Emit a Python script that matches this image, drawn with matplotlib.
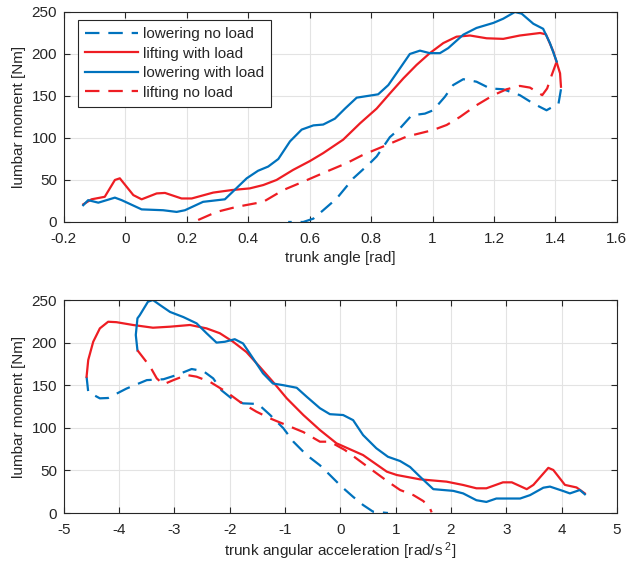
import matplotlib
matplotlib.use("Agg")
import matplotlib.pyplot as plt

plt.rcParams["font.family"] = ["Liberation Sans", "DejaVu Sans"]
plt.rcParams["mathtext.fontset"] = "custom"
plt.rcParams["mathtext.rm"] = "Liberation Sans"
plt.rcParams["mathtext.it"] = "Liberation Sans"
plt.rcParams["axes.unicode_minus"] = False

BLUE = "#0072BD"
RED = "#EE1D23"
TXT = "#262626"

# ---- top panel: trunk angle [rad] vs lumbar moment [Nm] ----
ang_lower_load = [1.404, 1.382, 1.360, 1.328, 1.290, 1.268, 1.230, 1.198, 1.143, 1.100,
                  1.051, 1.024, 0.991, 0.959, 0.926, 0.894, 0.856, 0.823, 0.753, 0.715,
                  0.682, 0.644, 0.612, 0.574, 0.536, 0.498, 0.465, 0.432, 0.395, 0.324,
                  0.253, 0.194, 0.167, 0.123, 0.053, -0.012, -0.034, -0.088, -0.121, -0.137]
mom_lower_load = [191, 213, 230, 236, 248, 250, 242, 237, 231, 223,
                  207, 201, 201, 204, 200, 183, 163, 152, 148, 135,
                  123, 116, 115, 110, 96, 75, 66, 61, 52, 27,
                  24, 14, 12, 14, 15, 26, 29, 23, 26, 20]

ang_lift_load = [-0.137, -0.110, -0.067, -0.034, -0.018, 0.026, 0.053, 0.102, 0.129, 0.183,
                 0.216, 0.286, 0.346, 0.405, 0.449, 0.492, 0.546, 0.601, 0.644, 0.709,
                 0.764, 0.818, 0.861, 0.905, 0.948, 0.991, 1.035, 1.078, 1.122, 1.176,
                 1.230, 1.284, 1.350, 1.369, 1.393, 1.415, 1.418]
mom_lift_load = [21, 27, 30, 50, 52, 32, 27, 34, 34.6, 28,
                 28, 35, 38, 40, 44, 50, 62, 72.6, 82, 98,
                 117.5, 135, 153, 171, 187, 201, 213, 220.6, 222, 218.7,
                 218, 222, 225, 223.4, 203, 177, 161]

ang_lower_noload = [1.418, 1.410, 1.371, 1.328, 1.284, 1.230, 1.187, 1.143, 1.100, 1.067,
                    1.040, 1.002, 0.975, 0.932, 0.894, 0.861, 0.818, 0.796, 0.742, 0.688,
                    0.644, 0.612, 0.579, 0.530]
mom_lower_noload = [158, 141, 133, 141, 151, 158, 159, 167, 170, 163,
                    149, 133, 129, 127, 111.5, 101, 78, 70, 52, 28,
                    14, 4, 0, 0]

ang_lift_noload = [0.237, 0.297, 0.362, 0.449, 0.514, 0.579, 0.655, 0.720, 0.774, 0.840,
                   0.915, 1.002, 1.046, 1.089, 1.143, 1.198, 1.241, 1.284, 1.317, 1.357,
                   1.373, 1.388, 1.404]
mom_lift_noload = [2.4, 12, 18, 24, 38, 48, 60, 70, 80, 90,
                   101.6, 109.5, 115.5, 125, 139, 151, 158, 162, 160, 151,
                   159, 175, 191]

# ---- bottom panel: trunk angular acceleration [rad/s^2] vs lumbar moment [Nm] ----
acc_lower_load = [4.42, 4.33, 4.15, 4.03, 3.79, 3.67, 3.43, 3.25, 2.82, 2.64,
                  2.46, 2.22, 2.04, 1.68, 1.44, 1.26, 1.08, 0.86, 0.65, 0.41,
                  0.23, 0.05, -0.19, -0.37, -0.61, -0.79, -1.03, -1.22, -1.40, -1.58,
                  -1.76, -1.91, -2.09, -2.24, -2.42, -2.60, -2.84, -3.08, -3.26, -3.39,
                  -3.48, -3.63, -3.67, -3.70, -3.67]
bmom_lower_load = [22, 27, 23, 25.8, 31, 29.7, 21, 17, 17, 13,
                   15, 23, 26, 28, 42.6, 54, 61, 66, 76, 91.5,
                   109, 115, 116, 123, 136.5, 147, 150, 152, 164, 181.6,
                   199, 204, 201, 200, 211, 222.6, 230, 236, 244, 250,
                   248, 232, 228.5, 209, 191]

acc_lift_load = [-4.59, -4.56, -4.47, -4.35, -4.20, -4.05, -3.75, -3.39, -3.08, -2.72,
                 -2.42, -2.18, -1.94, -1.70, -1.46, -1.22, -0.97, -0.67, -0.37, -0.07,
                 0.41, 0.84, 1.02, 1.44, 1.92, 2.22, 2.46, 2.64, 2.94, 3.10,
                 3.37, 3.49, 3.76, 3.85, 4.06, 4.27, 4.42]
bmom_lift_load = [160, 179.6, 201, 216.7, 224.5, 224, 220.7, 217.5, 218.7, 220.7,
                  216.7, 211, 201, 189, 171.7, 154, 134.6, 115, 97.4, 81.8,
                  68, 48.5, 44.6, 39.5, 36.8, 32.9, 29, 29, 36, 36,
                  28, 33, 53, 50.5, 33, 30, 23]

acc_lower_noload = [-4.59, -4.56, -4.35, -4.20, -3.87, -3.50, -3.20, -2.96, -2.69, -2.48,
                    -2.30, -2.15, -1.97, -1.76, -1.49, -1.27, -1.03, -0.85, -0.61, -0.37,
                    -0.19, 0.02, 0.23, 0.41, 0.59, 0.86]
bmom_lower_noload = [160, 142, 134.6, 135, 146, 156, 157, 162, 169, 166.6,
                     158, 144, 134.6, 128.7, 128, 115, 99.4, 83.7, 68, 56,
                     44.6, 31, 19, 9.4, 1.6, 0]

acc_lift_noload = [-3.67, -3.44, -3.32, -3.20, -3.02, -2.78, -2.60, -2.36, -2.06, -1.82,
                   -1.52, -1.27, -0.97, -0.67, -0.37, -0.19, 0.08, 0.29, 0.53, 0.86,
                   1.08, 1.32, 1.50, 1.62, 1.65]
bmom_lift_noload = [191, 171.7, 158, 151, 156, 162, 160, 154, 142, 130.6,
                    119, 111, 103, 95, 83.7, 83.7, 74, 64, 52.5, 36.8,
                    27, 21, 14, 5.5, 0.8]

LW = 1.6
DASH = (6.5, 4)
FS = 11


def style_axes(ax):
    ax.grid(True, color="#e3e3e3", linewidth=0.8)
    ax.set_axisbelow(True)
    for s in ax.spines.values():
        s.set_color(TXT)
        s.set_linewidth(0.8)
    ax.tick_params(direction="in", top=True, right=True, colors=TXT,
                   labelsize=FS, length=4, width=0.8)
    ax.tick_params(axis="x", pad=7)
    ax.tick_params(axis="y", pad=5)


fig = plt.figure(figsize=(6.39, 5.63), dpi=100)
ax1 = fig.add_axes([0.100, 0.6057, 0.8654, 0.373])
ax2 = fig.add_axes([0.100, 0.0888, 0.8654, 0.3783])

ax1.plot(ang_lower_noload, mom_lower_noload, color=BLUE, lw=LW, dashes=DASH, label="lowering no load")
ax1.plot(ang_lift_load, mom_lift_load, color=RED, lw=LW, label="lifting with load")
ax1.plot(ang_lower_load, mom_lower_load, color=BLUE, lw=LW, label="lowering with load")
ax1.plot(ang_lift_noload, mom_lift_noload, color=RED, lw=LW, dashes=DASH, label="lifting no load")
ax1.set_xlim(-0.2, 1.6)
ax1.set_ylim(0, 250)
ax1.set_xticks([-0.2, 0, 0.2, 0.4, 0.6, 0.8, 1, 1.2, 1.4, 1.6])
ax1.set_xticklabels(["-0.2", "0", "0.2", "0.4", "0.6", "0.8", "1", "1.2", "1.4", "1.6"])
ax1.set_yticks([0, 50, 100, 150, 200, 250])
ax1.set_xlabel("trunk angle [rad]", fontsize=FS, color=TXT, labelpad=4)
ax1.set_ylabel("lumbar moment [Nm]", fontsize=FS, color=TXT, labelpad=4)
style_axes(ax1)
leg = ax1.legend(loc="upper left", bbox_to_anchor=(0.025, 0.96), fontsize=FS,
                 frameon=True, fancybox=False, edgecolor=TXT, framealpha=1,
                 handlelength=3.5, handletextpad=0.35, borderpad=0.45,
                 labelspacing=0.36, borderaxespad=0)
leg.get_frame().set_linewidth(0.8)
for t in leg.get_texts():
    t.set_color(TXT)

ax2.plot(acc_lower_noload, bmom_lower_noload, color=BLUE, lw=LW, dashes=DASH)
ax2.plot(acc_lift_load, bmom_lift_load, color=RED, lw=LW)
ax2.plot(acc_lower_load, bmom_lower_load, color=BLUE, lw=LW)
ax2.plot(acc_lift_noload, bmom_lift_noload, color=RED, lw=LW, dashes=DASH)
ax2.set_xlim(-5, 5)
ax2.set_ylim(0, 250)
ax2.set_xticks(range(-5, 6))
ax2.set_yticks([0, 50, 100, 150, 200, 250])
ax2.set_xlabel(r"trunk angular acceleration [rad/s$^{\ 2}$]", fontsize=FS, color=TXT, labelpad=3)
ax2.set_ylabel("lumbar moment [Nm]", fontsize=FS, color=TXT, labelpad=4)
style_axes(ax2)

fig.savefig("out.png", dpi=100)
